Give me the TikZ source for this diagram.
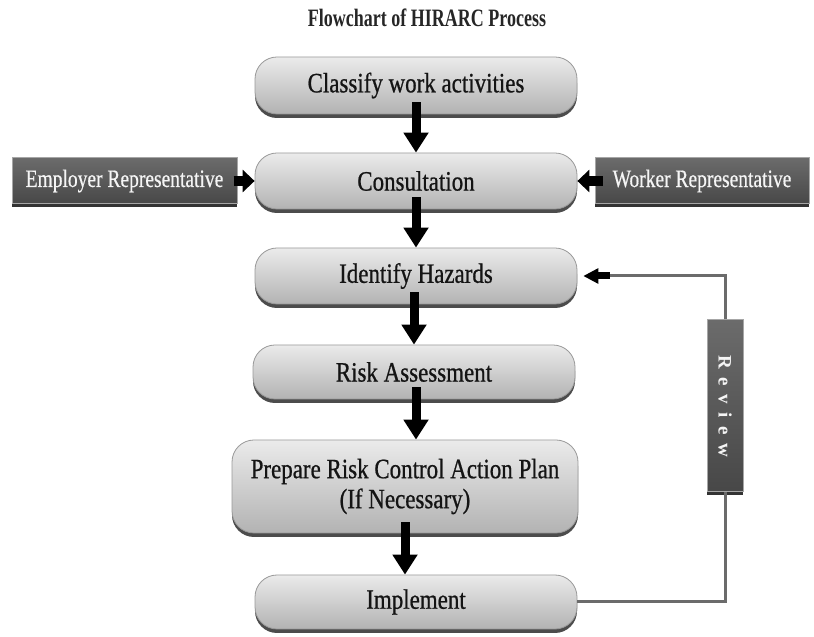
\documentclass[tikz,border=0pt]{standalone}
\usepackage{fontspec}
\setmainfont{Liberation Serif}
\newfontfamily\condbox[FakeStretch=0.82,FakeBold=0.7]{Liberation Serif}
\newfontfamily\condside[FakeStretch=0.78,FakeBold=0.5]{Liberation Serif}
\newfontfamily\condtitle[FakeStretch=0.72]{Liberation Serif}
\usetikzlibrary{arrows.meta,shadows}
\begin{document}
\begin{tikzpicture}[x=1pt,y=1pt,
  lbox/.style={rounded corners=22pt, draw=black!40, line width=0.8pt,
    top color=black!8, bottom color=black!30,
    drop shadow={shadow xshift=0pt,shadow yshift=-4pt,fill=black!70,opacity=1},
    minimum width=322pt, minimum height=56pt, inner sep=0pt, align=center,
    font=\condbox\fontsize{28}{30}\selectfont, text=black!92},
  dbox/.style={draw=black!35, line width=1pt, top color=black!58, bottom color=black!72,
    drop shadow={shadow xshift=0pt,shadow yshift=-3pt,fill=black!80,opacity=1},
    minimum height=46pt, inner sep=0pt,
    font=\condside\fontsize{25}{28}\selectfont, text=black!4},
  bigarr/.style={black, line width=9pt, -{Triangle[length=20pt,width=24pt]}},
  smarr/.style={black, line width=10pt, -{Triangle[length=12pt,width=22pt]}},
  revline/.style={draw=black!58, line width=3pt},
]
\useasboundingbox (0,0) rectangle (814,637);
\fill[white] (0,0) rectangle (814,637);

\node[font=\condtitle\bfseries\fontsize{25}{28}\selectfont, text=black!85] (title) at (427,619) {Flowchart of HIRARC Process};

\node[lbox, minimum height=57pt] (cls)  at (416,551.5) {Classify work activities};
\node[lbox] (cons) at (416,456) {Consultation};
\node[lbox] (iden) at (416,361) {Identify Hazards};
\node[lbox, minimum height=54pt] (risk) at (414,265) {Risk Assessment};
\node[lbox, minimum width=346pt, minimum height=93pt] (prep) at (405,150.5) {Prepare Risk Control Action Plan\\(If Necessary)};
\node[lbox, minimum height=54pt] (impl) at (416,35) {Implement};

\node[dbox, minimum width=225pt] (emp) at (124.5,456) {Employer Representative};
\node[dbox, minimum width=214pt] (wrk) at (702,456) {Worker Representative};

\node[dbox, minimum width=36pt, minimum height=172pt, font=\bfseries\fontsize{19}{22}\selectfont] (rev) at (725,231)
  {\rotatebox{-90}{R\hspace{8.5pt}e\hspace{8.5pt}v\hspace{8.5pt}i\hspace{8.5pt}e\hspace{8.5pt}w}};

\draw[bigarr] ([yshift=12pt]cls.south) -- (cons.north);
\draw[bigarr] ([yshift=12pt]cons.south) -- (iden.north);
\draw[bigarr] ([yshift=12pt]iden.south -| risk.north) -- (risk.north);
\draw[bigarr] ([yshift=12pt]risk.south -| iden.south) -- (prep.north -| iden.south);
\draw[bigarr] ([yshift=11pt]prep.south) -- (prep.south |- impl.north);

\draw[smarr] ([xshift=-4pt]emp.east) -- (cons.west);
\draw[smarr] ([xshift=8pt]wrk.west) -- (cons.east);

\draw[revline] (impl.east) -| (rev.south);
\draw[revline, -{Triangle[length=15pt,width=15pt,black]}, shorten >=6pt] (rev.north) |- (iden.east);
\draw[black, line width=7pt] ([xshift=20pt]iden.east) -- ([xshift=33pt]iden.east);
\end{tikzpicture}
\end{document}
